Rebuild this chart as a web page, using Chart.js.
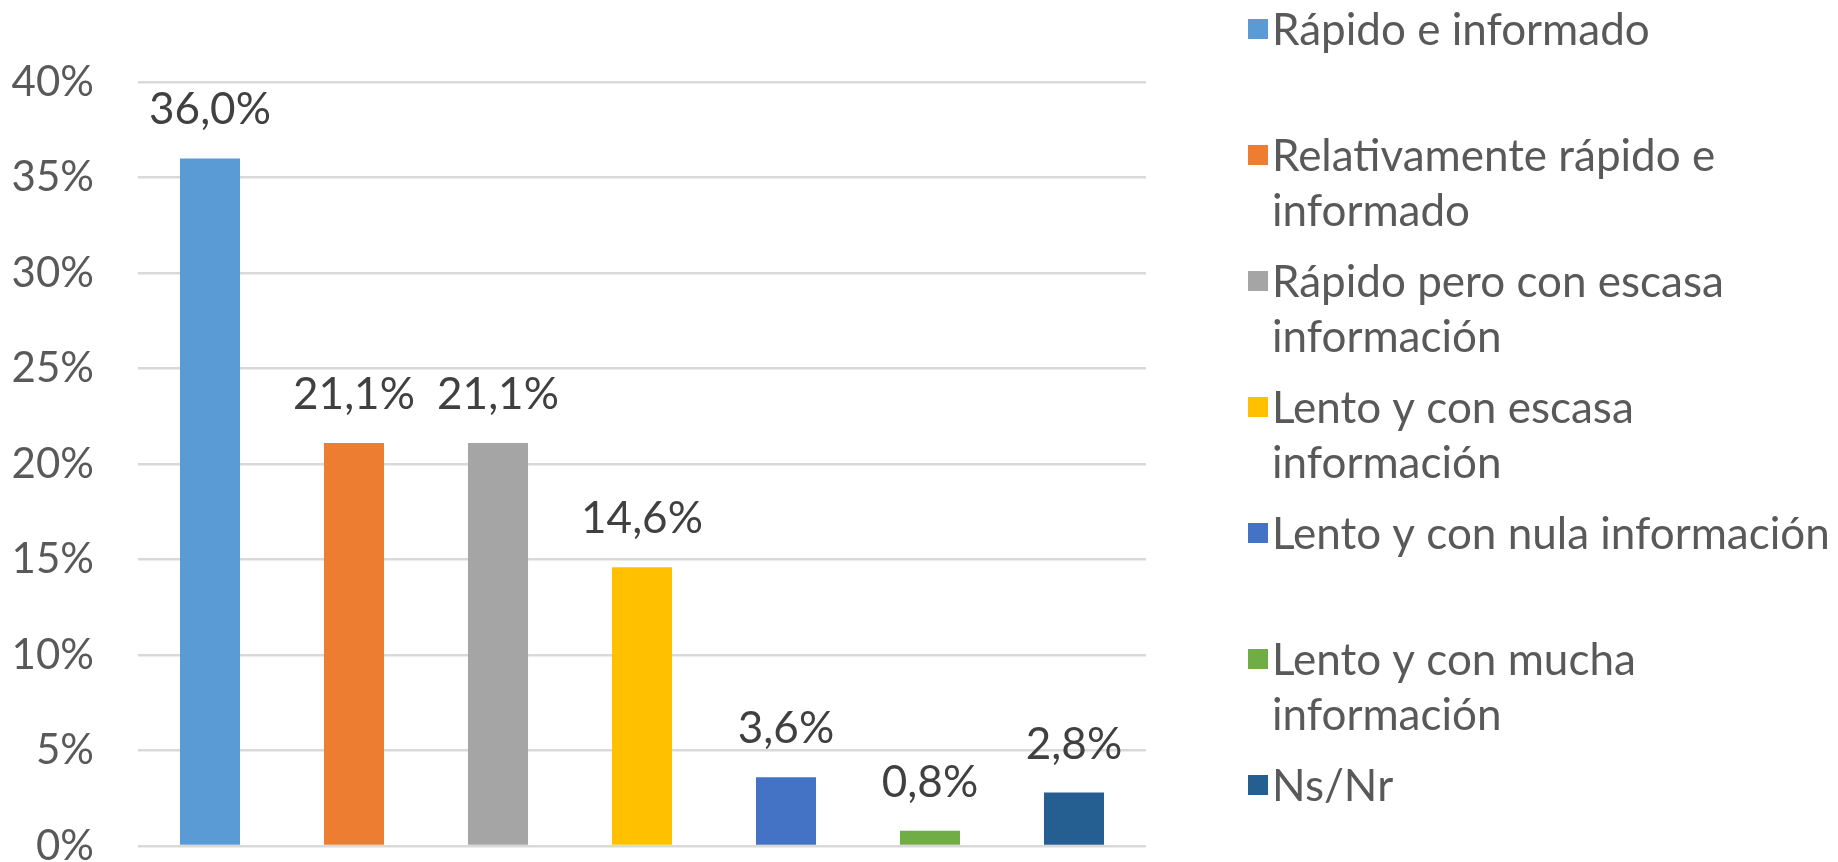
<!DOCTYPE html>
<html>
<head>
<meta charset="utf-8">
<script src="https://cdn.jsdelivr.net/npm/chart.js@4"></script>
<style>
html,body{margin:0;padding:0;background:#fff;overflow:hidden;}
#wrap{position:relative;width:1838px;height:862px;}
</style>
</head>
<body>
<div id="wrap"><canvas id="c" width="1838" height="862"></canvas></div>
<script>
const categories = [
  "Rápido e informado",
  "Relativamente rápido e informado",
  "Rápido pero con escasa información",
  "Lento y con escasa información",
  "Lento y con nula información",
  "Lento y con mucha información",
  "Ns/Nr"
];
const values = [36.0, 21.1, 21.1, 14.6, 3.6, 0.8, 2.8];
const colors = ["#5B9BD5", "#ED7D31", "#A5A5A5", "#FFC000", "#4472C4", "#70AD47", "#255E91"];
const yTicks = [0, 5, 10, 15, 20, 25, 30, 35, 40];

const FONT = "Lato, 'Open Sans', sans-serif";

const dataLabels = {
  id: 'dataLabels',
  afterDatasetsDraw(chart) {
    const ctx = chart.ctx;
    const meta = chart.getDatasetMeta(0);
    ctx.save();
    ctx.font = "44px " + FONT;
    ctx.fillStyle = "#404040";
    ctx.textAlign = "center";
    ctx.textBaseline = "alphabetic";
    meta.data.forEach((bar, i) => {
      const txt = values[i].toFixed(1).replace('.', ',') + '%';
      ctx.fillText(txt, bar.x, bar.y - 34);
    });
    ctx.restore();
  }
};

const sideLegend = {
  id: 'sideLegend',
  afterDraw(chart) {
    const ctx = chart.ctx;
    const boxX = 1248, boxSize = 20, textX = 1272, maxW = 570;
    const firstY = 29, slot = 126, lineH = 55;
    ctx.save();
    ctx.font = "44px " + FONT;
    ctx.textAlign = "left";
    ctx.textBaseline = "middle";
    categories.forEach((label, i) => {
      const words = label.split(' ');
      const lines = [];
      let cur = '';
      words.forEach(w => {
        const t = cur ? cur + ' ' + w : w;
        if (ctx.measureText(t).width > maxW && cur) { lines.push(cur); cur = w; }
        else cur = t;
      });
      if (cur) lines.push(cur);
      const y0 = firstY + i * slot;
      ctx.fillStyle = colors[i];
      ctx.fillRect(boxX, y0 - boxSize / 2, boxSize, boxSize);
      ctx.fillStyle = "#595959";
      lines.forEach((ln, k) => ctx.fillText(ln, textX, y0 + k * lineH + 2));
    });
    ctx.restore();
  }
};

new Chart(document.getElementById('c'), {
  type: 'bar',
  data: {
    labels: categories,
    datasets: [{
      data: values,
      backgroundColor: colors,
      borderWidth: 0,
      barPercentage: 0.417,
      categoryPercentage: 1.0
    }]
  },
  options: {
    responsive: false,
    animation: false,
    devicePixelRatio: 1,
    layout: { padding: { left: 0, right: 692, top: 82, bottom: 16 } },
    plugins: { legend: { display: false }, tooltip: { enabled: false } },
    scales: {
      x: {
        display: false,
        grid: { display: false }
      },
      y: {
        min: 0, max: 40,
        border: { display: false },
        grid: { color: "#D9D9D9", lineWidth: 2.5, drawTicks: false },
        afterBuildTicks(scale) { scale.ticks = yTicks.map(v => ({ value: v })); },
        afterFit(scale) { scale.width = 138; scale.paddingTop = 0; scale.paddingBottom = 0; },
        ticks: {
          padding: 44,
          color: "#595959",
          font: { family: FONT, size: 42 },
          callback: v => v + '%'
        }
      }
    }
  },
  plugins: [dataLabels, sideLegend]
});
</script>
</body>
</html>
